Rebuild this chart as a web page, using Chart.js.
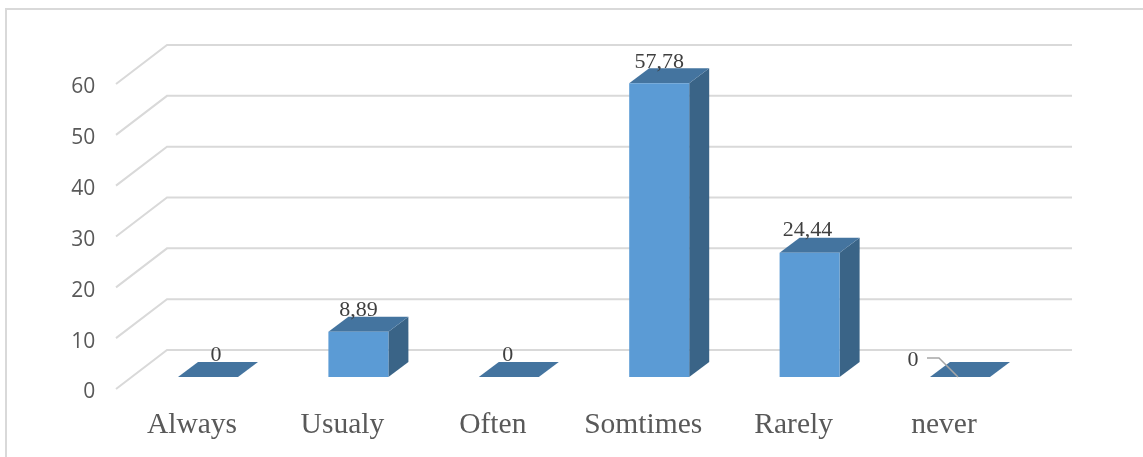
<!DOCTYPE html>
<html>
<head>
<meta charset="utf-8">
<style>
  html, body { margin: 0; padding: 0; background: #fff; }
  #wrap { position: relative; width: 1143px; height: 457px; }
</style>
<script src="https://cdn.jsdelivr.net/npm/chart.js@4"></script>
</head>
<body>
<div id="wrap"><canvas id="chart" width="1143" height="457"></canvas></div>
<script>
const categories = ['Always', 'Usualy', 'Often', 'Somtimes', 'Rarely', 'never'];
const shares = [0, 8.89, 0, 57.78, 24.44, 0];
const valueLabels = ['0', '8,89', '0', '57,78', '24,44', '0'];

// Offsets of each value label from the centre of its bar's front top edge.
const labelShift = [[8, -22], [0, -22], [-1, -22], [0, -21], [-2, -23], [-47, -17]];

const FRONT = '#5B9BD5', TOP = '#44749F', SIDE = '#3A6487', GRID = '#D9D9D9';

// Depth of the box: bar plane to back wall, bar plane to front edge of the floor.
const BAR_DX = 20, BAR_DY = -15;
const WALL_DX = 35, WALL_DY = -27;
const FLOOR_DY = 12, FLOOR_DX = -16.8;
const WALL_RIGHT = 1072;

function poly(ctx, pts, fill) {
  ctx.beginPath();
  pts.forEach((p, i) => i ? ctx.lineTo(p[0], p[1]) : ctx.moveTo(p[0], p[1]));
  ctx.closePath();
  ctx.fillStyle = fill;
  ctx.fill();
}

const box3d = {
  id: 'box3d',
  beforeDatasetsDraw(chart) {
    const { ctx, scales: { y }, chartArea } = chart;
    ctx.save();
    // Back wall and side wall gridlines, one per tick.
    ctx.strokeStyle = GRID;
    ctx.lineWidth = 2;
    y.ticks.forEach(t => {
      const py = y.getPixelForValue(t.value);
      const bx = chartArea.left + WALL_DX - 0.8;
      ctx.beginPath();
      ctx.moveTo(chartArea.left + FLOOR_DX, py + FLOOR_DY);
      ctx.lineTo(bx, py + WALL_DY);
      ctx.lineTo(WALL_RIGHT, py + WALL_DY);
      ctx.stroke();
    });
    // Top and side faces of each bar.
    chart.getDatasetMeta(0).data.forEach(bar => {
      const { x, y: top, base, width } = bar.getProps(['x', 'y', 'base', 'width'], true);
      const l = x - width / 2, r = x + width / 2;
      poly(ctx, [[r, top], [r + BAR_DX, top + BAR_DY], [r + BAR_DX, base + BAR_DY], [r, base]], SIDE);
      poly(ctx, [[l, top], [l + BAR_DX, top + BAR_DY], [r + BAR_DX, top + BAR_DY], [r, top]], TOP);
    });
    ctx.restore();
  },
  afterDatasetsDraw(chart) {
    const { ctx } = chart;
    const bars = chart.getDatasetMeta(0).data;
    ctx.save();
    // Leader line tying the last label to its bar.
    const last = bars[bars.length - 1];
    ctx.strokeStyle = '#A6A6A6';
    ctx.lineWidth = 1.5;
    ctx.beginPath();
    ctx.moveTo(last.x - 33, last.y - 19);
    ctx.lineTo(last.x - 21, last.y - 19);
    ctx.lineTo(last.x - 2, last.y);
    ctx.stroke();
    // Value labels.
    ctx.font = '22px "Liberation Serif"';
    ctx.fillStyle = '#404040';
    ctx.textAlign = 'center';
    ctx.textBaseline = 'middle';
    bars.forEach((bar, i) => {
      ctx.fillText(valueLabels[i], bar.x + labelShift[i][0], bar.y + labelShift[i][1]);
    });
    ctx.restore();
  }
};

// Outer frame of the figure, open along the bottom and running off the right edge.
const frame = {
  id: 'frame',
  beforeDraw(chart) {
    const { ctx } = chart;
    ctx.save();
    ctx.strokeStyle = GRID;
    ctx.lineWidth = 2;
    ctx.beginPath();
    ctx.moveTo(6, 457);
    ctx.lineTo(6, 9);
    ctx.lineTo(1143, 9);
    ctx.stroke();
    ctx.restore();
  }
};

new Chart(document.getElementById('chart'), {
  type: 'bar',
  data: {
    labels: categories,
    datasets: [{
      data: shares,
      backgroundColor: FRONT,
      borderWidth: 0,
      barPercentage: 0.399,
      categoryPercentage: 1,
      minBarLength: 0
    }]
  },
  options: {
    responsive: false,
    animation: false,
    layout: { padding: { top: 72, right: 107.8, left: 0, bottom: 0 } },
    plugins: { legend: { display: false }, tooltip: { enabled: false } },
    scales: {
      x: {
        grid: { display: false, drawTicks: false },
        border: { display: false },
        afterFit(scale) { scale.height = 80; },
        ticks: {
          color: '#595959',
          font: { family: '"Liberation Serif"', size: 29.5 },
          padding: 31,
          labelOffset: -16,
          maxRotation: 0,
          autoSkip: false
        }
      },
      y: {
        min: 0,
        max: 60,
        grid: { display: false, drawTicks: false },
        border: { display: false },
        afterFit(scale) { scale.width = 132.8; },
        ticks: {
          stepSize: 10,
          color: '#595959',
          font: { family: '"Open Sans"', size: 21 },
          padding: 37.5,
          labelOffset: 15.5
        }
      }
    }
  },
  plugins: [frame, box3d]
});
</script>
</body>
</html>
